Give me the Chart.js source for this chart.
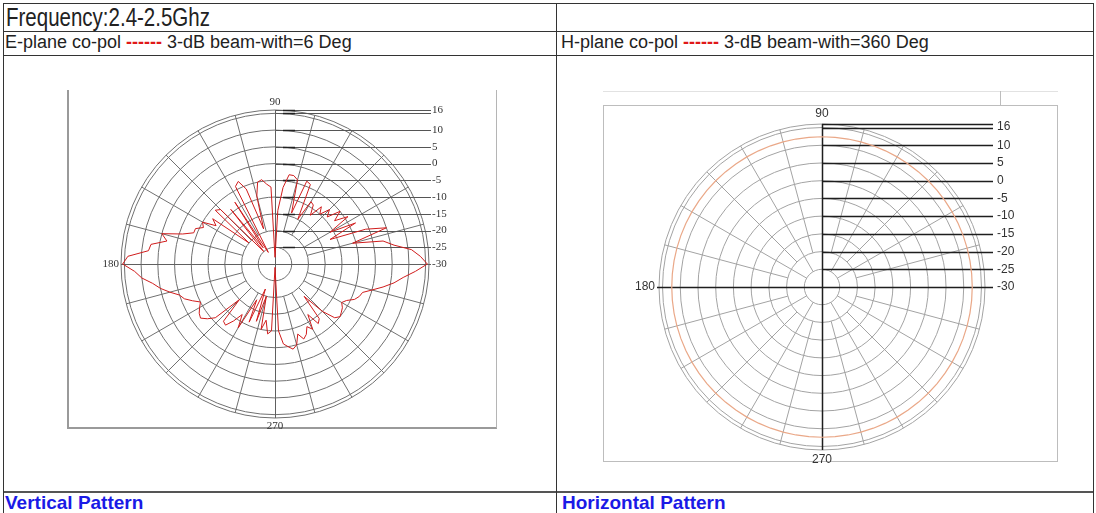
<!DOCTYPE html>
<html>
<head>
<meta charset="utf-8">
<script src="https://cdn.jsdelivr.net/npm/chart.js"></script>
<style>
  body { margin: 0; width: 1096px; height: 513px; overflow: hidden; background: #fff; font-family: "Liberation Sans", Arial, sans-serif; }
  .ln { position: absolute; background: #333; }
  .txt { position: absolute; white-space: nowrap; color: #222; }
  .red { color: #e01818; font-weight: bold; }
  .blue { color: #1a1ae6; font-weight: bold; font-size: 19px; }
  canvas { position: absolute; }
  .frame { position: absolute; box-sizing: border-box; }
</style>
</head>
<body>
<!-- table lines -->
<div class="ln" style="left:3px;top:3px;width:1091px;height:1px"></div>
<div class="ln" style="left:3px;top:31px;width:1091px;height:1px"></div>
<div class="ln" style="left:3px;top:55px;width:1091px;height:1px"></div>
<div class="ln" style="left:3px;top:491px;width:1091px;height:2px;background:#555"></div>
<div class="ln" style="left:3px;top:3px;width:1px;height:510px"></div>
<div class="ln" style="left:1093px;top:3px;width:1px;height:510px"></div>
<div class="ln" style="left:556px;top:3px;width:1px;height:510px"></div>

<div class="txt" style="left:6px;top:3px;font-size:25px;transform:scaleX(0.82);transform-origin:left">Frequency:2.4-2.5Ghz</div>
<div class="txt" style="left:5px;top:32px;font-size:18px">E-plane co-pol <span class="red">------</span> 3-dB beam-with=6 Deg</div>
<div class="txt" style="left:561px;top:32px;font-size:18px">H-plane co-pol <span class="red">------</span> 3-dB beam-with=360 Deg</div>
<div class="txt blue" style="left:5px;top:492px">Vertical Pattern</div>
<div class="txt blue" style="left:562px;top:492px">Horizontal Pattern</div>

<!-- picture frames -->
<div class="frame" style="left:67px;top:90px;width:430px;height:339px;border-left:2px solid #9a9a9a;border-bottom:2px solid #9a9a9a;border-right:1px solid #b5b5b5"></div>
<div class="frame" style="left:603px;top:91px;width:455px;height:1px;background:#e2e2e2"></div>
<div class="frame" style="left:1000px;top:91px;width:1px;height:15px;background:#bdbdbd"></div>
<div class="frame" style="left:603px;top:105px;width:455px;height:357px;border:1px solid #bdbdbd"></div>

<canvas id="ePlane" width="440" height="360" style="left:60px;top:80px"></canvas>
<canvas id="hPlane" width="460" height="370" style="left:600px;top:95px"></canvas>

<script>
// E-plane co-pol, dB, every 3 degrees starting at 0 (counter-clockwise, 0 = right)
const eAngles = [];
for (let a = 0; a < 360; a += 3) eAngles.push(a);
const eValues = [
  15.5, 13.5, 11, 6, 3, -6, 5, -1, -12, -3,
  -11, -4, -8, -5, -9, -7, -10, -8, -12, -9,
  -8.5, -15, -4, -3.5, -14, -4, -3, -3, -7, -14,
  -28, -7, -6, -4.5, -5, -9, -19, -6, -3, -4,
  -26, -8, -24, -9, -25, -7, -6, -20, -7, -9,
  -5, -6, -4, -4, -1, 5, 3, 7.5, 8, 14,
  15.5, 12, 10, 7, 5, 2.5, 0, -1, -3, -5,
  -4, -3, -2.5, -4, -6, -15, -7, -6.5, -9, -12,
  -8, -18, -11, -22, -12, -20, -10, -13, -9, -10,
  -29, -10, -6, -5, -4, -5, -8, -6, -7, -9,
  -7.5, -12, -8, -9, -17, -10, -6, -5, -5.5, -6,
  -7, -6, -4, -3, -2.5, 0, 3, 6, 8.5, 12
];

// H-plane co-pol, dB, every 5 degrees
const hAngles = [];
for (let a = 0; a < 360; a += 5) hAngles.push(a);
const hValues = [
  12.4, 12.4, 12.4, 12.4, 12.4, 12.4, 12.4, 12.4, 12.4, 12.4, 12.4, 12.4,
  12.4, 12.4, 12.4, 12.4, 12.4, 12.4, 12.4, 12.4, 12.4, 12.4, 12.4, 12.4,
  12.4, 12.4, 12.4, 12.4, 12.4, 12.4, 12.4, 12.4, 12.4, 12.4, 12.4, 12.4,
  12.4, 12.4, 12.4, 12.4, 12.4, 12.4, 12.4, 12.4, 12.4, 12.4, 12.4, 12.4,
  12.4, 12.4, 12.4, 12.4, 12.4, 12.4, 12.4, 12.4, 12.4, 12.4, 12.4, 12.4,
  12.4, 12.4, 12.4, 12.4, 12.4, 12.4, 12.4, 12.4, 12.4, 12.4, 12.4, 12.4
];

const dbMin = -30;
const dbMax = 16;
const rings = [-25, -20, -15, -10, -5, 0, 5, 10, 15, 16];
const tickLabels = [16, 10, 5, 0, -5, -10, -15, -20, -25, -30];
const spokeAngles = [0, 15, 30, 45, 60, 75, 90, 105, 120, 135, 150, 165, 180, 195, 210, 225, 240, 255, 270, 285, 300, 315, 330, 345];
const axisLabels = ['90', '180', '270'];

// radar goes clockwise from startAngle, polar degrees go counter-clockwise
function reorder(arr) {
  return arr.map((_, i) => arr[(arr.length - i) % arr.length]);
}

const polarDeco = {
  id: 'polarDeco',
  beforeDatasetsDraw(chart, args, o) {
    const r = chart.scales.r, ctx = chart.ctx;
    const xc = r.xCenter, yc = r.yCenter, R = r.drawingArea;
    const labels = chart.data.labels;
    ctx.save();
    // spokes
    ctx.strokeStyle = o.spokeColor;
    ctx.lineWidth = 1;
    spokeAngles.forEach(a => {
      if (a % 90 === 0) return;
      const idx = labels.indexOf(a);
      const from = a % 30 === 0 ? o.spokeA : o.spokeB;
      const p0 = r.getPointPositionForValue(idx, from);
      const p1 = r.getPointPositionForValue(idx, dbMax);
      ctx.beginPath();
      ctx.moveTo(p0.x, p0.y);
      ctx.lineTo(p1.x, p1.y);
      ctx.stroke();
    });
    // leader lines to the dB labels
    const xEnd = xc + R + o.leaderExt;
    ctx.strokeStyle = o.leaderColor;
    ctx.lineWidth = o.leaderWidth;
    [16, 15, 10, 5, 0, -5, -10, -15, -20, -25].forEach(v => {
      const y = Math.round(yc - r.getDistanceFromCenterForValue(v)) + 0.5;
      ctx.beginPath();
      ctx.moveTo(xc, y);
      ctx.lineTo(xEnd, y);
      ctx.stroke();
      if (o.tickMark) {
        ctx.save();
        ctx.strokeStyle = '#222';
        ctx.lineWidth = 1.5;
        ctx.beginPath();
        ctx.moveTo(xc + 8, y);
        ctx.lineTo(xc + 20, y);
        ctx.stroke();
        ctx.restore();
      }
    });
    // axes
    ctx.strokeStyle = o.axisColor;
    ctx.lineWidth = o.axisWidth;
    const yh = Math.round(yc) + 0.5, xv = Math.round(xc) + 0.5;
    ctx.beginPath();
    ctx.moveTo(xc - R - o.axisLeftExt, yh);
    ctx.lineTo(xEnd, yh);
    ctx.moveTo(xv, yc - R);
    ctx.lineTo(xv, yc + R + o.axisBottomExt);
    ctx.stroke();
    ctx.restore();
  },
  afterDraw(chart, args, o) {
    const r = chart.scales.r, ctx = chart.ctx;
    const xc = r.xCenter, yc = r.yCenter, R = r.drawingArea;
    ctx.save();
    ctx.fillStyle = o.textColor;
    ctx.font = o.font;
    ctx.textBaseline = 'middle';
    ctx.textAlign = 'left';
    tickLabels.forEach(v => {
      let y = yc - r.getDistanceFromCenterForValue(v);
      if (v === dbMax) y += o.topLabelShift;
      ctx.fillText(String(v), xc + R + o.leaderExt + o.labelGap, y);
    });
    ctx.textAlign = 'center';
    ctx.fillText(axisLabels[0], xc, yc - R - o.angleGap);
    ctx.fillText(axisLabels[2], xc, yc + R + o.angleGap);
    ctx.textAlign = 'right';
    ctx.fillText(axisLabels[1], xc - R - o.axisLeftExt - 2, yc);
    ctx.restore();
  }
};

function makeChart(id, angles, values, color, width, pad, gridColor, deco) {
  return new Chart(document.getElementById(id), {
    type: 'radar',
    data: {
      labels: reorder(angles),
      datasets: [{
        data: reorder(values),
        borderColor: color,
        borderWidth: width,
        pointRadius: 0,
        fill: false,
        tension: 0
      }]
    },
    options: {
      responsive: false,
      animation: false,
      layout: { padding: pad },
      plugins: {
        legend: { display: false },
        tooltip: { enabled: false },
        polarDeco: deco
      },
      scales: {
        r: {
          min: dbMin,
          max: dbMax,
          startAngle: 90,
          afterBuildTicks: (scale) => { scale.ticks = rings.map(v => ({ value: v })); },
          ticks: { display: false },
          pointLabels: { display: false },
          angleLines: { display: false },
          grid: { circular: true, color: gridColor, lineWidth: 1 }
        }
      }
    },
    plugins: [polarDeco]
  });
}

makeChart('ePlane', eAngles, eValues, '#d01c1c', 1,
  { left: 61, right: 71, top: 30, bottom: 22 }, '#707070', {
    spokeColor: '#707070', spokeA: -20, spokeB: -20,
    leaderColor: '#555', leaderWidth: 1, leaderExt: 2, tickMark: true,
    axisColor: '#606060', axisWidth: 1, axisLeftExt: 0, axisBottomExt: 0,
    textColor: '#333', font: '11px "Liberation Serif", "Times New Roman", serif',
    labelGap: 1, topLabelShift: 0, angleGap: 8
  });

makeChart('hPlane', hAngles, hValues, '#eaa888', 1.2,
  { left: 59, right: 75, top: 29, bottom: 15 }, '#a3a3a3', {
    spokeColor: '#a3a3a3', spokeA: -25, spokeB: -20,
    leaderColor: '#1e1e1e', leaderWidth: 1.5, leaderExt: 8, tickMark: false,
    axisColor: '#1e1e1e', axisWidth: 1.5, axisLeftExt: 2, axisBottomExt: 0,
    textColor: '#333', font: '12px "Liberation Sans", Arial, sans-serif',
    labelGap: 4, topLabelShift: 3, angleGap: 10
  });
</script>
</body>
</html>
